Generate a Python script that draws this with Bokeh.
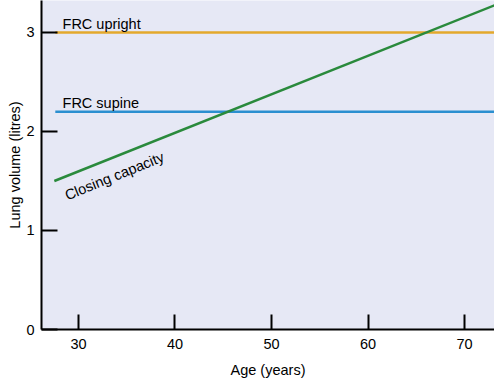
from bokeh.plotting import figure
from bokeh.models import Range1d, FixedTicker
from bokeh.core.properties import value
from bokeh.embed import file_html
from bokeh.resources import INLINE

# Data
age_span = [27.6, 73.5]
frc_upright = [3.0, 3.0]
frc_supine = [2.2, 2.2]
closing_age = [27.5, 73.5]
closing_capacity = [1.5, 3.29]
x_ticks = [30, 40, 50, 60, 70]
y_ticks = [0, 1, 2, 3]

FONT = "Liberation Sans"

p = figure(width=494, height=380, output_backend="svg", toolbar_location=None,
           x_range=Range1d(26.17, 73.1), y_range=Range1d(0, 3.323),
           min_border_left=41, min_border_right=0, min_border_top=0, min_border_bottom=51)
p.background_fill_color = "#e6e8f5"
p.border_fill_color = "white"
p.outline_line_color = None
p.grid.visible = False

p.line(age_span, frc_upright, line_color="#e3a92c", line_width=2.5)
p.line(age_span, frc_supine, line_color="#2b8fd0", line_width=2.5)
p.line(closing_age, closing_capacity, line_color="#2a8a3c", line_width=2.5)

p.text(x=[28.35], y=[3.09], text=["FRC upright"], text_font=value(FONT),
       text_font_size="14.5px", text_color="black", text_baseline="alphabetic")
p.text(x=[28.35], y=[2.29], text=["FRC supine"], text_font=value(FONT),
       text_font_size="14.5px", text_color="black", text_baseline="alphabetic")
p.text(x=[28.66], y=[1.35], text=["Closing capacity"], text_font=value(FONT),
       text_font_size="14.5px", text_color="black", text_baseline="alphabetic", angle=0.385)

for ax in (p.xaxis[0], p.yaxis[0]):
    ax.axis_line_color = "black"
    ax.axis_line_width = 2
    ax.major_tick_line_color = "black"
    ax.major_tick_line_width = 2
    ax.major_tick_out = 0
    ax.minor_tick_line_color = None
    ax.major_label_text_font = FONT
    ax.major_label_text_font_size = "14.5px"
    ax.major_label_text_color = "black"
    ax.axis_label_text_font = FONT
    ax.axis_label_text_font_size = "14.5px"
    ax.axis_label_text_font_style = "normal"
    ax.axis_label_text_color = "black"

p.xaxis[0].ticker = FixedTicker(ticks=x_ticks)
p.yaxis[0].ticker = FixedTicker(ticks=y_ticks)
p.xaxis[0].major_tick_in = 15
p.yaxis[0].major_tick_in = 16
p.xaxis[0].major_label_standoff = 9
p.yaxis[0].major_label_standoff = 7
p.xaxis[0].axis_label_standoff = 10
p.yaxis[0].axis_label_standoff = 0
p.xaxis[0].axis_label = "Age (years)"
p.yaxis[0].axis_label = "Lung volume (litres)"

open("out.html", "w").write(file_html(p, INLINE))
